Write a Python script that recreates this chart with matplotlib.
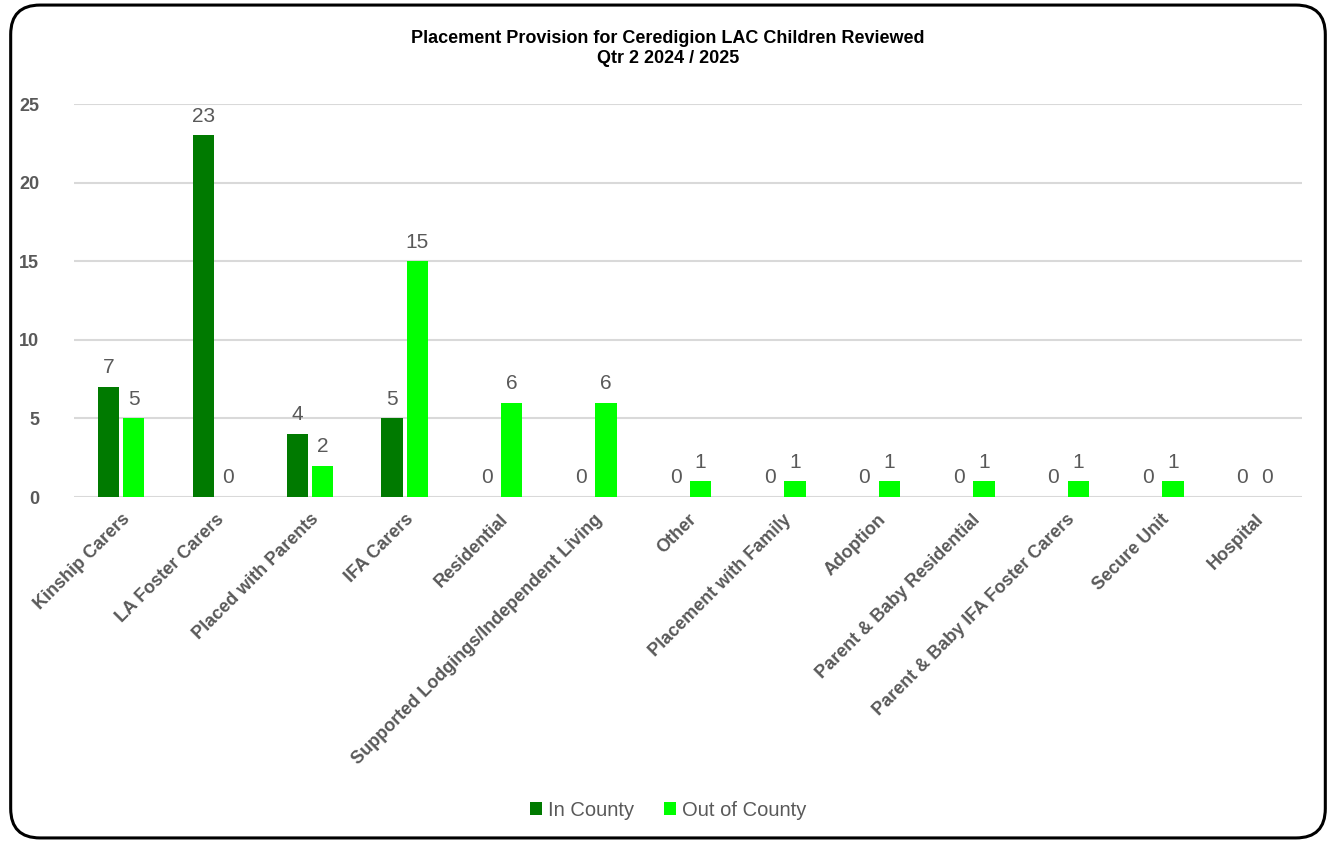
import matplotlib
matplotlib.use("Agg")
import matplotlib.pyplot as plt
import numpy as np
from matplotlib.patches import FancyBboxPatch

# chart data
categories = ["Kinship Carers", "LA Foster Carers", "Placed with Parents", "IFA Carers",
              "Residential", "Supported Lodgings/Independent Living", "Other",
              "Placement with Family", "Adoption", "Parent & Baby Residential",
              "Parent & Baby IFA Foster Carers", "Secure Unit", "Hospital"]
in_county = [7, 23, 4, 5, 0, 0, 0, 0, 0, 0, 0, 0, 0]
out_county = [5, 0, 2, 15, 6, 6, 1, 1, 1, 1, 1, 1, 0]
yticks = [0, 5, 10, 15, 20, 25]

font = ["Liberation Sans", "DejaVu Sans"]
grey = "#595959"

fig = plt.figure(figsize=(13.36, 8.43), dpi=100)
ax = fig.add_axes([0.0554, 0.4104, 0.9192, 0.4662])

# rounded chart border
border = FancyBboxPatch((0.008, 0.006), 0.984, 0.988, boxstyle="round,pad=0,rounding_size=0.022",
                        transform=fig.transFigure, fill=False, edgecolor="black", linewidth=2.2,
                        mutation_aspect=1336/843)
fig.patches.append(border)

x = np.arange(len(categories))
w = 0.225
gap = 0.02
b1 = ax.bar(x - w/2 - gap, in_county, w, color="#007A00", label="In County", zorder=3)
b2 = ax.bar(x + w/2 + gap, out_county, w, color="#00FF00", label="Out of County", zorder=3)

for bars, vals in ((b1, in_county), (b2, out_county)):
    for rect, v in zip(bars, vals):
        ax.annotate(str(v), (rect.get_x() + rect.get_width()/2, v), xytext=(0, 7),
                    textcoords="offset points", ha="center", va="bottom",
                    fontsize=15, color=grey, family=font)

ax.set_xlim(-0.5, len(categories) - 0.5)
ax.set_ylim(0, 25)
ax.set_yticks(yticks)
ax.set_yticklabels([str(t) for t in yticks], fontsize=13, fontweight="bold", color=grey,
                   family=font)
ax.set_xticks(x)
ax.set_xticklabels(categories, rotation=45, ha="right", rotation_mode="anchor",
                   fontsize=13, fontweight="bold", color=grey, family=font)
ax.tick_params(axis="both", length=0)
ax.tick_params(axis="y", pad=25)
ax.tick_params(axis="x", pad=10)
ax.grid(axis="y", color="#D9D9D9", linewidth=1.5, zorder=0)
for s in ax.spines.values():
    s.set_visible(False)

fig.text(0.5, 0.9425, "Placement Provision for Ceredigion LAC Children Reviewed\nQtr 2 2024 / 2025",
         ha="center", va="center", fontsize=13, fontweight="bold", family=font,
         linespacing=1.25)

fig.legend(handles=[b1, b2], loc="center", bbox_to_anchor=(0.5, 0.039), ncol=2,
           frameon=False, prop={"family": font, "size": 14.5}, labelcolor=grey,
           handlelength=0.6, handleheight=0.6, handletextpad=0.3, columnspacing=1.5)

fig.savefig("out.png", dpi=100)
